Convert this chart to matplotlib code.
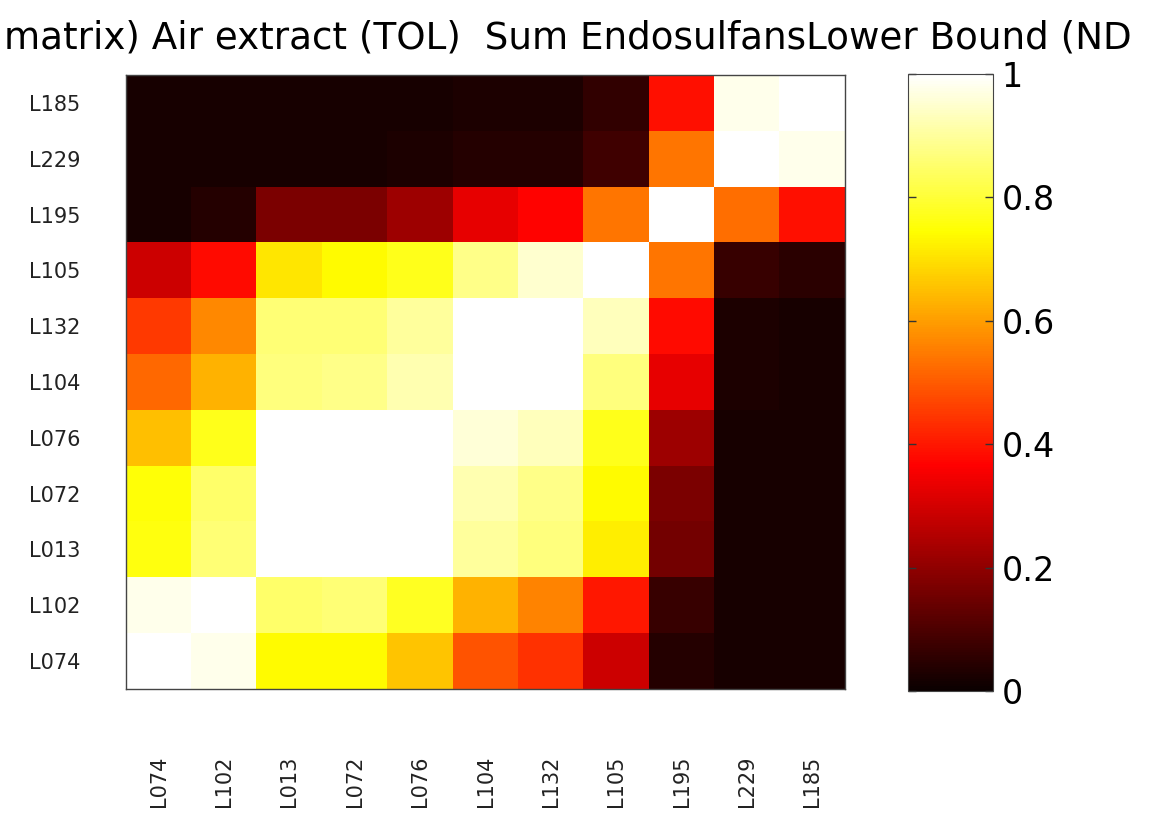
import numpy as np
import matplotlib
matplotlib.use("Agg")
from matplotlib import pyplot as plt

plt.rcParams['font.family'] = ['DejaVu Sans']

row_labels = ['L185', 'L229', 'L195', 'L105', 'L132', 'L104',
              'L076', 'L072', 'L013', 'L102', 'L074']
col_labels = ['L074', 'L102', 'L013', 'L072', 'L076', 'L104',
              'L132', 'L105', 'L195', 'L229', 'L185']

# correlation values, one row per label (top to bottom)
r_L185 = [0.02, 0.02, 0.02, 0.02, 0.02, 0.03, 0.03, 0.06, 0.39, 0.98, 1.00]
r_L229 = [0.02, 0.02, 0.02, 0.02, 0.03, 0.04, 0.04, 0.08, 0.54, 1.00, 0.98]
r_L195 = [0.02, 0.04, 0.17, 0.17, 0.22, 0.33, 0.37, 0.54, 1.00, 0.53, 0.39]
r_L105 = [0.29, 0.38, 0.71, 0.74, 0.77, 0.88, 0.95, 1.00, 0.54, 0.07, 0.05]
r_L132 = [0.45, 0.57, 0.86, 0.86, 0.90, 1.00, 1.00, 0.93, 0.38, 0.03, 0.02]
r_L104 = [0.52, 0.63, 0.87, 0.88, 0.92, 1.00, 1.00, 0.87, 0.33, 0.03, 0.02]
r_L076 = [0.65, 0.77, 1.00, 1.00, 1.00, 0.96, 0.93, 0.77, 0.22, 0.02, 0.02]
r_L072 = [0.75, 0.85, 1.00, 1.00, 1.00, 0.92, 0.88, 0.74, 0.17, 0.02, 0.02]
r_L013 = [0.76, 0.86, 1.00, 1.00, 1.00, 0.90, 0.87, 0.72, 0.16, 0.02, 0.02]
r_L102 = [0.98, 1.00, 0.85, 0.86, 0.78, 0.63, 0.56, 0.40, 0.07, 0.02, 0.02]
r_L074 = [1.00, 0.98, 0.74, 0.74, 0.66, 0.49, 0.44, 0.29, 0.04, 0.02, 0.02]

corr = np.array([r_L185, r_L229, r_L195, r_L105, r_L132, r_L104,
                 r_L076, r_L072, r_L013, r_L102, r_L074])

W, H = 1158, 817
fig = plt.figure(figsize=(W / 100, H / 100), dpi=100)

ax = fig.add_axes([126 / W, 1 - 689 / H, 719 / W, 614 / H])
im = ax.imshow(corr, cmap='hot', vmin=0, vmax=1, aspect='auto',
               interpolation='nearest')

ax.set_xticks(range(len(col_labels)))
ax.set_xticklabels(col_labels, rotation=90, fontsize=15, color='#222222',
                   va='top')
ax.set_yticks(range(len(row_labels)))
ax.set_yticklabels(row_labels, fontsize=15, color='#222222')
ax.tick_params(axis='x', length=0, pad=48)
ax.tick_params(axis='y', length=0, pad=33)
for s in ax.spines.values():
    s.set_color('#444444')
    s.set_linewidth(1.0)

cax = fig.add_axes([908 / W, 1 - 691 / H, 85 / W, 617 / H])
cb = fig.colorbar(im, cax=cax, ticks=[0, 0.2, 0.4, 0.6, 0.8, 1])
cb.ax.set_yticklabels(['0', '0.2', '0.4', '0.6', '0.8', '1'])
cb.ax.tick_params(labelsize=24, length=6, width=1, direction='in',
                  left=True, right=True, pad=6, color='#333333')
cb.outline.set_edgecolor('#444444')

fig.text(4 / W, 1 - 38 / H, 'matrix) Air extract (TOL)  Sum EndosulfansLower Bound (ND',
         fontsize=26.8, ha='left', va='center')

fig.savefig('out.png', dpi=100)
